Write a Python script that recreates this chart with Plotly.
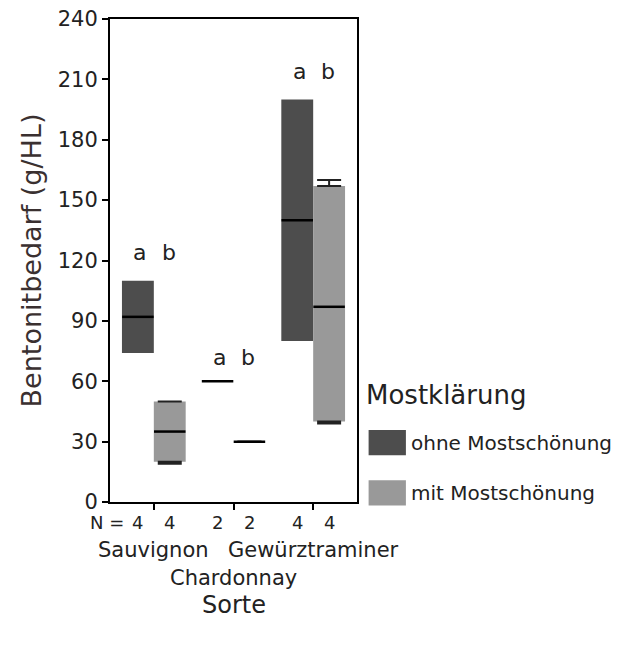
import plotly.graph_objects as go

# ---- data ----
sorten = ["Sauvignon", "Chardonnay", "Gewürztraminer"]
series = ["ohne Mostschönung", "mit Mostschönung"]
n_counts = {"ohne Mostschönung": [4, 2, 4], "mit Mostschönung": [4, 2, 4]}

q1 = {"ohne Mostschönung": [74, 60, 80], "mit Mostschönung": [20, 30, 40]}
median = {"ohne Mostschönung": [92, 60, 140], "mit Mostschönung": [35, 30, 97]}
q3 = {"ohne Mostschönung": [110, 60, 200], "mit Mostschönung": [50, 30, 157]}
whisk_lo = {"ohne Mostschönung": [74, 60, 80], "mit Mostschönung": [19, 30, 39]}
whisk_hi = {"ohne Mostschönung": [110, 60, 200], "mit Mostschönung": [50, 30, 160]}
letters = ["a", "b"]
letter_y = [124, 72, 214]

y_ticks = [0, 30, 60, 90, 120, 150, 180, 210, 240]

# ---- style ----
fills = {"ohne Mostschönung": "#4d4d4d", "mit Mostschönung": "#999999"}
whisk_col = {"ohne Mostschönung": "rgba(0,0,0,0)", "mit Mostschönung": "#222222"}
offsets = {"ohne Mostschönung": -0.2, "mit Mostschönung": 0.2}
box_w = 0.4
FONT = "DejaVu Sans"
TXT = "#222222"

cat_pos = list(range(len(sorten)))

fig = go.Figure()

for s in series:
    xs = [c + offsets[s] for c in cat_pos]
    heights = [b - a for a, b in zip(q1[s], q3[s])]
    fig.add_trace(go.Bar(
        x=xs, y=heights, base=q1[s], width=box_w,
        marker=dict(color=fills[s], line=dict(width=0)),
        name=s, showlegend=False, hoverinfo="skip",
    ))
    # upper whiskers
    fig.add_trace(go.Scatter(
        x=xs, y=q3[s], mode="markers",
        marker=dict(size=1, color="rgba(0,0,0,0)"),
        error_y=dict(type="data", symmetric=False,
                     array=[h - t for h, t in zip(whisk_hi[s], q3[s])],
                     arrayminus=[0] * len(xs),
                     color=whisk_col[s], thickness=2, width=12),
        showlegend=False, hoverinfo="skip",
    ))
    # lower whiskers
    fig.add_trace(go.Scatter(
        x=xs, y=q1[s], mode="markers",
        marker=dict(size=1, color="rgba(0,0,0,0)"),
        error_y=dict(type="data", symmetric=False,
                     array=[0] * len(xs),
                     arrayminus=[b - l for b, l in zip(q1[s], whisk_lo[s])],
                     color=whisk_col[s], thickness=2, width=12),
        showlegend=False, hoverinfo="skip",
    ))
    # medians
    fig.add_trace(go.Scatter(
        x=xs, y=median[s], mode="markers",
        marker=dict(symbol="line-ew", size=22.5, color="black",
                    line=dict(width=2.5, color="black")),
        showlegend=False, hoverinfo="skip",
    ))

annotations = []
# letters a / b
for c, ly in zip(cat_pos, letter_y):
    for s, L in zip(series, letters):
        annotations.append(dict(x=c + offsets[s], y=ly, xref="x", yref="y",
                                text=L, showarrow=False, xshift=2 if L == "a" else -1,
                                font=dict(family=FONT, size=22, color=TXT)))
# N counts
annotations.append(dict(x=cat_pos[0] + offsets[series[0]], y=0, xref="x", yref="paper",
                        text="N =", showarrow=False, xanchor="right", yanchor="middle",
                        xshift=-12, yshift=-20,
                        font=dict(family=FONT, size=18, color=TXT)))
for s in series:
    for c, n in zip(cat_pos, n_counts[s]):
        annotations.append(dict(x=c + offsets[s], y=0, xref="x", yref="paper",
                                text=str(n), showarrow=False, yanchor="middle", yshift=-20,
                                font=dict(family=FONT, size=18, color=TXT)))
# category labels (staggered)
for i, (c, name) in enumerate(zip(cat_pos, sorten)):
    annotations.append(dict(x=c, y=0, xref="x", yref="paper", text=name,
                            showarrow=False, yanchor="middle",
                            yshift=-48 if i % 2 == 0 else -76,
                            font=dict(family=FONT, size=21, color=TXT)))
# x title
annotations.append(dict(x=0.5, y=0, xref="paper", yref="paper", text="Sorte",
                        showarrow=False, yanchor="middle", yshift=-103,
                        font=dict(family=FONT, size=24, color=TXT)))
# legend (manual)
annotations.append(dict(x=1.03, y=0.2215, xref="paper", yref="paper", text="Mostklärung",
                        showarrow=False, xanchor="left", yanchor="middle",
                        font=dict(family=FONT, size=26, color=TXT)))
leg_y = [0.123, 0.019]
shapes = []
for s, ly in zip(series, leg_y):
    shapes.append(dict(type="rect", xref="paper", yref="paper",
                       x0=1.047, x1=1.198, y0=ly - 0.026, y1=ly + 0.026,
                       fillcolor=fills[s], line=dict(width=0)))
    annotations.append(dict(x=1.212, y=ly, xref="paper", yref="paper", text=s,
                            showarrow=False, xanchor="left", yanchor="middle",
                            font=dict(family=FONT, size=20, color=TXT)))

fig.update_layout(
    width=642, height=648,
    margin=dict(l=110, r=285, t=19, b=146, autoexpand=False),
    paper_bgcolor="white", plot_bgcolor="white",
    barmode="overlay",
    annotations=annotations, shapes=shapes,
    showlegend=False,
    font=dict(family=FONT, color=TXT),
)
fig.update_xaxes(range=[-0.55, 2.55], tickvals=cat_pos, ticktext=["", "", ""],
                 ticks="outside", ticklen=6, tickwidth=2, tickcolor="black",
                 showline=True, linewidth=2, linecolor="black", mirror=True,
                 showgrid=False, zeroline=False, automargin=False)
fig.update_yaxes(range=[0, 240], tickvals=y_ticks,
                 ticks="outside", ticklen=6, tickwidth=1.5, tickcolor="black",
                 showline=True, linewidth=2, linecolor="black", mirror=True,
                 showgrid=False, zeroline=False, automargin=False,
                 tickfont=dict(family=FONT, size=21, color=TXT),
                 title=dict(text="Bentonitbedarf (g/HL)", standoff=8,
                            font=dict(family=FONT, size=27, color="#3a3030")))

fig.write_html("out.html", config={"displayModeBar": False},
               post_script="document.body.style.margin='0px';")
